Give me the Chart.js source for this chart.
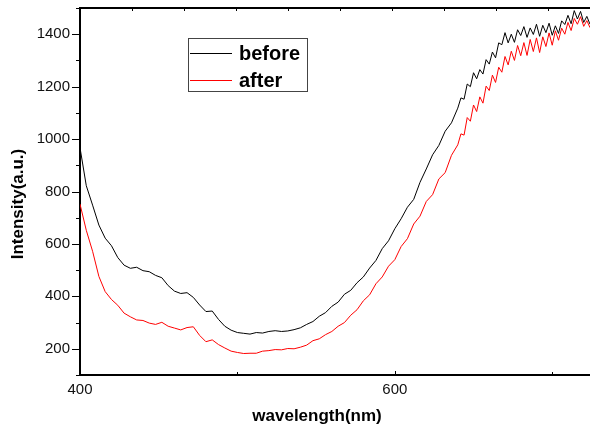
<!DOCTYPE html>
<html lang="en">
<head>
    <meta charset="utf-8">
    <title>Intensity vs wavelength</title>
    <style>
        body { margin: 0; background: #fff; }
    </style>
</head>
<body>
    <canvas id="myChart" width="590" height="430"></canvas>

    <script src="https://cdn.jsdelivr.net/npm/chart.js@4"></script>
    <script>
        // wavelength (nm): 4 nm steps up to 640, then 2 nm steps in the noisy part
        const wavelength = [
            400, 404, 408, 412, 416, 420, 424, 428, 432, 436, 440, 444, 448, 452, 456, 460,
            464, 468, 472, 476, 480, 484, 488, 492, 496, 500, 504, 508, 512, 516, 520, 524,
            528, 532, 536, 540, 544, 548, 552, 556, 560, 564, 568, 572, 576, 580, 584, 588,
            592, 596, 600, 604, 608, 612, 616, 620, 624, 628, 632, 636, 640,
            642, 644, 646, 648, 650, 652, 654, 656, 658, 660, 662, 664, 666, 668, 670, 672,
            674, 676, 678, 680, 682, 684, 686, 688, 690, 692, 694, 696, 698, 700, 702, 704,
            706, 708, 710, 712, 714, 716, 718, 720, 722, 724
        ];

        const before = [
            967, 822, 748, 672, 622, 593, 548, 519, 507, 511, 498, 494, 480, 471, 441, 420,
            411, 414, 396, 367, 342, 344, 312, 286, 271, 262, 259, 256, 262, 260, 266, 269,
            266, 268, 273, 280, 293, 304, 324, 338, 362, 378, 408, 423, 452, 474, 508, 537,
            582, 612, 658, 696, 740, 770, 835, 886, 940, 976, 1030, 1062, 1118,
            1157, 1152, 1210, 1200, 1253, 1230, 1265, 1248, 1303, 1286, 1332, 1310, 1367, 1360, 1406, 1367,
            1400, 1369, 1417, 1395, 1429, 1388, 1424, 1399, 1438, 1392, 1434, 1406, 1442, 1396, 1432, 1403,
            1451, 1437, 1472, 1440, 1490, 1458, 1487, 1445, 1468, 1438
        ];

        const after = [
            752, 652, 572, 476, 418, 388, 366, 336, 322, 310, 308, 298, 293, 301, 286, 279,
            272, 281, 284, 251, 227, 234, 216, 203, 191, 186, 182, 183, 183, 191, 193, 197,
            196, 201, 200, 206, 214, 231, 238, 254, 266, 286, 300, 328, 349, 383, 406, 448,
            474, 515, 540, 590, 620, 676, 706, 762, 788, 848, 872, 938, 978,
            1020, 1015, 1082, 1068, 1130, 1105, 1161, 1137, 1202, 1185, 1244, 1216, 1274, 1255, 1315, 1283,
            1335, 1300, 1357, 1318, 1368, 1319, 1380, 1334, 1386, 1330, 1390, 1353, 1405, 1358, 1413, 1377,
            1423, 1400, 1445, 1414, 1460, 1438, 1467, 1430, 1452, 1425
        ];

        const xTicks = [400, 600];
        const yTicks = [200, 400, 600, 800, 1000, 1200, 1400];

        const FONT = "'Liberation Sans', Arial, sans-serif";

        // extra frame bits: top border, tick marks, axis titles and the boxed legend
        const framePlugin = {
            id: 'frame',
            afterDraw(chart) {
                const ctx = chart.ctx;
                const area = chart.chartArea;
                const xs = chart.scales.x;
                const ys = chart.scales.y;

                ctx.save();
                ctx.strokeStyle = '#000';

                // top border
                ctx.lineWidth = 2;
                ctx.beginPath();
                ctx.moveTo(area.left - 1, area.top);
                ctx.lineTo(area.right, area.top);
                ctx.stroke();

                ctx.lineWidth = 1;
                ctx.beginPath();
                // y ticks, outward: major every 200, minor in between
                for (let v = 100; v <= 1500; v += 100) {
                    const y = Math.round(ys.getPixelForValue(v)) + 0.5;
                    const len = (v % 200 === 0) ? 8 : 4;
                    ctx.moveTo(area.left - len, y);
                    ctx.lineTo(area.left, y);
                }
                // bottom ticks, inward
                for (let v = 400; v <= 724; v += 100) {
                    const x = Math.round(xs.getPixelForValue(v)) + 0.5;
                    const len = (v % 200 === 0) ? 4 : 3;
                    ctx.moveTo(x, area.bottom);
                    ctx.lineTo(x, area.bottom - len);
                }
                // top ticks, inward
                for (let v = 433; v <= 724; v += 33) {
                    const x = Math.round(xs.getPixelForValue(v)) + 0.5;
                    ctx.moveTo(x, area.top);
                    ctx.lineTo(x, area.top + 3);
                }
                ctx.stroke();

                // axis titles
                ctx.fillStyle = '#000';
                ctx.font = 'bold 17px ' + FONT;
                ctx.textAlign = 'center';
                ctx.textBaseline = 'alphabetic';
                ctx.fillText('wavelength(nm)', 317, 421);

                ctx.save();
                ctx.translate(18, 204);
                ctx.rotate(-Math.PI / 2);
                ctx.textBaseline = 'middle';
                ctx.fillText('Intensity(a.u.)', 0, 0);
                ctx.restore();

                // legend box
                const lx = 188, ly = 38, lw = 119, lh = 53;
                ctx.strokeStyle = '#444';
                ctx.lineWidth = 1;
                ctx.strokeRect(lx + 0.5, ly + 0.5, lw, lh);

                ctx.font = 'bold 20px ' + FONT;
                ctx.textAlign = 'left';
                ctx.textBaseline = 'alphabetic';
                chart.data.datasets.forEach((ds, i) => {
                    const rowY = ly + 15 + i * 27;
                    ctx.strokeStyle = ds.borderColor;
                    ctx.beginPath();
                    ctx.moveTo(lx + 2, rowY + 0.5);
                    ctx.lineTo(lx + 44, rowY + 0.5);
                    ctx.stroke();
                    ctx.fillStyle = '#000';
                    ctx.fillText(ds.label, lx + 51, rowY + 6.5);
                });

                ctx.restore();
            }
        };

        const ctx = document.getElementById('myChart').getContext('2d');
        const chart = new Chart(ctx, {
            type: 'line',
            data: {
                datasets: [{
                    label: 'before',
                    borderColor: '#000000',
                    data: wavelength.map((w, i) => ({ x: w, y: before[i] }))
                }, {
                    label: 'after',
                    borderColor: '#ff0000',
                    data: wavelength.map((w, i) => ({ x: w, y: after[i] }))
                }]
            },
            options: {
                responsive: false,
                animation: false,
                devicePixelRatio: 1,
                layout: { padding: { top: 8, left: 0, right: 0, bottom: 0 } },
                elements: {
                    point: { radius: 0 },
                    line: { borderWidth: 1, tension: 0 }
                },
                plugins: {
                    legend: { display: false },
                    tooltip: { enabled: false }
                },
                scales: {
                    x: {
                        type: 'linear',
                        min: 400,
                        max: 724,
                        afterFit: (s) => {
                            s.height = 55;
                            s.paddingLeft = 0;
                            s.paddingRight = 0;
                        },
                        afterBuildTicks: (s) => { s.ticks = xTicks.map(v => ({ value: v })); },
                        ticks: {
                            padding: 6,
                            maxRotation: 0,
                            autoSkip: false,
                            color: '#111',
                            font: { family: FONT, size: 15 },
                            callback: (v) => String(v)
                        },
                        grid: { display: true, drawOnChartArea: false, drawTicks: false },
                        border: { display: true, color: '#000', width: 2 }
                    },
                    y: {
                        min: 100,
                        max: 1500,
                        afterFit: (s) => {
                            s.width = 80;
                            s.paddingTop = 0;
                            s.paddingBottom = 0;
                        },
                        afterBuildTicks: (s) => { s.ticks = yTicks.map(v => ({ value: v })); },
                        ticks: {
                            padding: 10,
                            color: '#111',
                            font: { family: FONT, size: 15 },
                            callback: (v) => String(v)
                        },
                        grid: { display: true, drawOnChartArea: false, drawTicks: false },
                        border: { display: true, color: '#000', width: 2 }
                    }
                }
            },
            plugins: [framePlugin]
        });
    </script>
</body>
</html>
